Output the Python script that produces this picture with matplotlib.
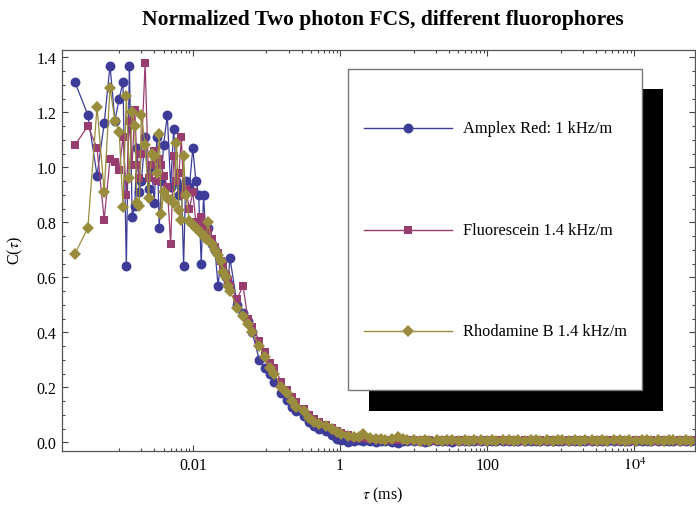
import matplotlib
matplotlib.use('Agg')
import matplotlib.pyplot as plt
from matplotlib.lines import Line2D
from matplotlib.patches import Rectangle
from matplotlib.ticker import FixedLocator, FixedFormatter, NullFormatter

plt.rcParams['font.family'] = ['Liberation Serif', 'DejaVu Serif']
plt.rcParams['mathtext.fontset'] = 'stix'

# ---------------- data ----------------
TAU = [
    2.5e-4, 3.75e-4, 5e-4, 6.25e-4, 7.5e-4, 8.75e-4, 1e-3, 1.125e-3,
    1.25e-3, 1.375e-3, 1.5e-3, 1.625e-3, 1.75e-3, 1.875e-3, 2e-3,
    2.25e-3, 2.5e-3, 2.75e-3, 3e-3, 3.25e-3, 3.5e-3, 3.75e-3, 4e-3,
    4.5e-3, 5e-3, 5.5e-3, 6e-3, 6.5e-3, 7e-3, 7.5e-3, 8e-3,
    9e-3, 0.010, 0.011, 0.012, 0.013, 0.014, 0.015, 0.016,
    0.018, 0.020, 0.022, 0.024, 0.026, 0.028, 0.030, 0.032,
    0.040, 0.048, 0.056, 0.064, 0.080, 0.096, 0.112, 0.128,
    0.160, 0.192, 0.224, 0.256, 0.320, 0.384, 0.448, 0.512,
    0.640, 0.768, 0.896, 1.024, 1.280, 1.536, 1.792, 2.048,
    2.560, 3.072, 3.584, 4.096, 5.120, 6.144, 7.168, 8.192,
    10.24, 12.29, 14.34, 16.38, 20.48, 24.58, 28.67, 32.77,
    40.96, 49.15, 57.34, 65.54, 81.92, 98.30, 114.7, 131.1,
    163.8, 196.6, 229.4, 262.1, 327.7, 393.2, 458.8, 524.3,
    655.4, 786.4, 917.5, 1049, 1311, 1573, 1835, 2097,
    2621, 3146, 3670, 4194, 5243, 6291, 7340, 8389,
    10486, 12583, 14680, 16777, 20972, 25166, 29360, 33554,
    41943, 50332, 58720,
]

AMPLEX_RED = [
    1.31, 1.19, 0.97, 1.16, 1.37, 1.17, 1.25, 1.31,
    0.64, 1.37, 0.82, 0.86, 1.07, 0.91, 0.95,
    1.11, 0.92, 1.00, 0.87, 1.11, 0.78, 0.95, 1.08,
    1.19, 0.93, 1.14, 0.95, 0.90, 0.93, 0.64, 0.95,
    0.93, 1.07, 0.95, 0.90, 0.65, 0.90, 0.75, 0.78,
    0.72, 0.70, 0.57, 0.66, 0.62, 0.60, 0.58, 0.67,
    0.50, 0.47, 0.44, 0.40, 0.30, 0.27, 0.25, 0.22,
    0.18, 0.155, 0.13, 0.115, 0.095, 0.075, 0.06, 0.05,
    0.04, 0.028, 0.012, 0.010, 0.000, 0.003, 0.008, 0.004,
    0.005, 0.000, 0.003, 0.005, 0.002, -0.002, 0.003, 0.004,
    0.003, 0.005, 0.002, 0.004, 0.003, 0.005, 0.004, 0.002,
    0.004, 0.003, 0.005, 0.004, 0.003, 0.004, 0.003, 0.005,
    0.004, 0.003, 0.005, 0.004, 0.003, 0.004, 0.005, 0.003,
    0.004, 0.005, 0.004, 0.003, 0.004, 0.005, 0.003, 0.004,
    0.005, 0.004, 0.003, 0.005, 0.004, 0.003, 0.005, 0.004,
    0.004, 0.003, 0.005, 0.004, 0.003, 0.005, 0.004, 0.004,
    0.005, 0.004, 0.004,
]

FLUORESCEIN = [
    1.08, 1.15, 1.07, 0.81, 1.03, 1.02, 0.99, 1.11,
    0.90, 1.17, 1.01, 1.21, 1.01, 0.96, 1.05,
    1.38, 0.96, 1.01, 1.06, 0.95, 1.03, 1.01, 0.97,
    0.93, 0.72, 1.04, 0.95, 0.98, 1.11, 0.90, 0.92,
    0.85, 0.91, 0.80, 0.78, 0.82, 0.79, 0.76, 0.77,
    0.74, 0.71, 0.69, 0.66, 0.64, 0.61, 0.59, 0.57,
    0.52, 0.57, 0.45, 0.42, 0.37, 0.33, 0.29, 0.27,
    0.22, 0.19, 0.165, 0.145, 0.12, 0.10, 0.085, 0.075,
    0.062, 0.052, 0.042, 0.033, 0.025, 0.020, 0.017, 0.015,
    0.012, 0.011, 0.010, 0.009, 0.009, 0.008, 0.008, 0.007,
    0.007, 0.006, 0.008, 0.007, 0.006, 0.007, 0.008, 0.006,
    0.007, 0.006, 0.007, 0.008, 0.006, 0.007, 0.006, 0.007,
    0.008, 0.006, 0.007, 0.006, 0.007, 0.008, 0.006, 0.007,
    0.006, 0.007, 0.008, 0.006, 0.007, 0.006, 0.007, 0.008,
    0.006, 0.007, 0.006, 0.007, 0.008, 0.006, 0.007, 0.006,
    0.007, 0.008, 0.006, 0.007, 0.006, 0.007, 0.008, 0.006,
    0.007, 0.006, 0.007,
]

RHODAMINE_B = [
    0.685, 0.78, 1.22, 0.91, 1.29, 1.17, 1.13, 0.855,
    1.26, 0.96, 1.20, 1.15, 0.87, 0.86, 1.19,
    1.08, 0.89, 1.05, 1.04, 0.98, 1.12, 0.83, 0.91,
    0.89, 0.88, 0.87, 1.09, 0.845, 0.81, 1.04, 0.90,
    0.805, 0.79, 0.78, 0.77, 0.76, 0.75, 0.74, 0.80,
    0.72, 0.70, 0.68, 0.66, 0.62, 0.60, 0.57, 0.55,
    0.49, 0.46, 0.43, 0.40, 0.35, 0.31, 0.27, 0.25,
    0.20, 0.18, 0.15, 0.13, 0.115, 0.09, 0.075, 0.065,
    0.058, 0.048, 0.038, 0.030, 0.022, 0.018, 0.020, 0.030,
    0.015, 0.012, 0.011, 0.010, 0.012, 0.020, 0.012, 0.008,
    0.008, 0.006, 0.009, 0.006, 0.007, 0.006, 0.009, 0.007,
    0.006, 0.008, 0.006, 0.009, 0.007, 0.006, 0.008, 0.006,
    0.009, 0.007, 0.006, 0.008, 0.006, 0.009, 0.007, 0.006,
    0.008, 0.006, 0.009, 0.007, 0.006, 0.008, 0.006, 0.009,
    0.007, 0.006, 0.008, 0.006, 0.009, 0.007, 0.006, 0.008,
    0.006, 0.009, 0.007, 0.006, 0.008, 0.006, 0.009, 0.007,
    0.006, 0.008, 0.006,
]

SERIES_LABELS = ['Amplex Red: 1 kHz/m', 'Fluorescein 1.4 kHz/m', 'Rhodamine B 1.4 kHz/m']
TITLE = 'Normalized Two photon FCS, different fluorophores'
X_TICKS = [1e-2, 1, 1e2, 1e4]
X_TICK_LABELS = ['0.01', '1', '100', r'$10^{4}$']
Y_TICKS = [0.0, 0.2, 0.4, 0.6, 0.8, 1.0, 1.2, 1.4]
Y_TICK_LABELS = ['0.0', '0.2', '0.4', '0.6', '0.8', '1.0', '1.2', '1.4']

# ---------------- style ----------------
COLORS = ['#3d3d99', '#993d71', '#998c3d']
MARKERS = ['o', 's', 'D']
MSIZES = [7.1, 6.0, 6.0]
W, H = 696, 506

fig = plt.figure(figsize=(W / 100, H / 100), dpi=100)
ax = fig.add_axes([62 / W, 54 / H, 633 / W, 400.6 / H])

series = [AMPLEX_RED, FLUORESCEIN, RHODAMINE_B]
for vals, c, m, ms in zip(series, COLORS, MARKERS, MSIZES):
    ax.plot(TAU, vals, color=c, lw=0.9, marker=m, ms=ms, mec=c, mfc=c, mew=0)

ax.set_xscale('log')
ax.set_xlim(1.67e-4, 6.65e4)
ax.set_ylim(-0.0316, 1.425)

ax.xaxis.set_major_locator(FixedLocator(X_TICKS))
ax.xaxis.set_major_formatter(FixedFormatter(X_TICK_LABELS))
minor_x = [m * 10.0 ** e for e in (-3, -1, 1, 3) for m in range(1, 10)]
ax.xaxis.set_minor_locator(FixedLocator(minor_x))
ax.xaxis.set_minor_formatter(NullFormatter())
ax.yaxis.set_major_locator(FixedLocator(Y_TICKS))
ax.yaxis.set_major_formatter(FixedFormatter(Y_TICK_LABELS))
ax.yaxis.set_minor_locator(FixedLocator([i * 0.05 for i in range(0, 29)]))

ax.tick_params(which='both', direction='in', top=True, right=True, color='#444444', width=0.8)
ax.tick_params(which='major', length=4.5, labelsize=11.5, pad=4)
ax.tick_params(which='minor', length=2.5)
for sp in ax.spines.values():
    sp.set_color('#555555')
    sp.set_linewidth(0.9)

fig.text(15 / W, 1 - 250 / H, r'C($\tau$)', rotation=90, ha='center', va='center', fontsize=11.5)
fig.text(383 / W, 1 - 495 / H, r'$\tau$ (ms)', ha='center', va='center', fontsize=11.5)
fig.text(383 / W, 1 - 20 / H, TITLE, ha='center', va='center', fontsize=15.5, fontweight='bold')

# ---------------- legend (framed with drop shadow) ----------------
fig.add_artist(Rectangle((369 / W, 1 - 412 / H), 294 / W, 322 / H, transform=fig.transFigure,
                         facecolor='black', edgecolor='none', zorder=5))
fig.add_artist(Rectangle((348 / W, 1 - 391 / H), 294 / W, 321 / H, transform=fig.transFigure,
                         facecolor='white', edgecolor='#777777', lw=1.0, zorder=6))
for label, c, m, ms, ypx in zip(SERIES_LABELS, COLORS, MARKERS, MSIZES, [129, 231, 332]):
    fy = 1 - ypx / H
    fig.add_artist(Line2D([364 / W, 452 / W], [fy, fy], transform=fig.transFigure,
                          color=c, lw=1.0, zorder=7))
    fig.add_artist(Line2D([408 / W], [fy], transform=fig.transFigure, color=c,
                          marker=m, ms=ms, mec=c, mfc=c, mew=0, zorder=8))
    fig.text(463 / W, fy, label, ha='left', va='center', fontsize=11.8, zorder=8)

fig.savefig('out.png', dpi=100)
